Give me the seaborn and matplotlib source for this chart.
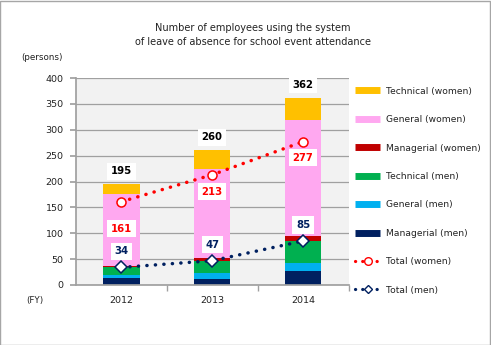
import matplotlib
matplotlib.use("Agg")
import matplotlib.pyplot as plt
from matplotlib.lines import Line2D
from matplotlib.patches import Rectangle
import seaborn as sns
import numpy as np
import pandas as pd

years = ["2012", "2013", "2014"]
managerial_men = [14, 12, 28]
general_men = [6, 11, 14]
technical_men = [14, 24, 43]
managerial_women = [3, 6, 9]
general_women = [138, 171, 225]
technical_women = [20, 36, 43]
total_women = [161, 213, 277]
total_men = [34, 47, 85]
grand_total = [195, 260, 362]

series_names = ["Managerial (men)", "General (men)", "Technical (men)",
                "Managerial (women)", "General (women)", "Technical (women)"]
series_values = [managerial_men, general_men, technical_men,
                 managerial_women, general_women, technical_women]
series_colors = ["#002060", "#00B0F0", "#00B050", "#C00000", "#FFA8F0", "#FFC000"]

sns.set_theme(style="white")
plt.rcParams['font.family'] = ['DejaVu Sans']

fig = plt.figure(figsize=(4.91, 3.45), dpi=100)
fig.patch.set_facecolor("white")
ax = fig.add_axes([76/491, 1-285/345, 272.5/491, 207/345])
ax.set_facecolor("#F2F2F2")

cum = np.cumsum(np.array(series_values), axis=0)
for i in range(len(series_names)-1, -1, -1):
    df = pd.DataFrame({"year": years, "v": cum[i]})
    sns.barplot(data=df, x="year", y="v", color=series_colors[i], width=0.4,
                saturation=1, ax=ax, zorder=2, linewidth=0)

dots = (0, (0.05, 2.4))
xs = np.arange(len(years))
ax.plot(xs, total_women, color="#FF0000", linestyle=dots, linewidth=2.5,
        dash_capstyle="round", marker="o", markersize=6.5, markerfacecolor="white",
        markeredgecolor="#FF0000", markeredgewidth=1.1, zorder=4)
ax.plot(xs, total_men, color="#002060", linestyle=dots, linewidth=2.5,
        dash_capstyle="round", marker="D", markersize=5.8, markerfacecolor="white",
        markeredgecolor="#002060", markeredgewidth=1.1, zorder=4)

box = dict(boxstyle="square,pad=0.35", fc="white", ec="none")
women_off = [-27, -17, -16]
for x, v, o in zip(xs, total_women, women_off):
    ax.annotate(str(v), (x, v), xytext=(0, o * 0.72), textcoords="offset points",
                ha="center", va="center", color="#FF0000", fontsize=7.3,
                fontweight="bold", bbox=box, zorder=5)
for x, v in zip(xs, total_men):
    ax.annotate(str(v), (x, v), xytext=(0, 16 * 0.72), textcoords="offset points",
                ha="center", va="center", color="#002060", fontsize=7.3,
                fontweight="bold", bbox=box, zorder=5)
for x, v in zip(xs, grand_total):
    ax.annotate(str(v), (x, v), xytext=(0, 13 * 0.72), textcoords="offset points",
                ha="center", va="center", color="black", fontsize=7.3,
                fontweight="bold", bbox=box, zorder=5)

ax.set_ylim(0, 400)
ax.set_xlim(-0.5, 2.5)
ax.set_yticks(range(0, 401, 50))
ax.yaxis.grid(True, color="#A0A0A0", linewidth=0.9, zorder=0)
ax.set_axisbelow(True)
ax.set_xlabel("")
ax.set_ylabel("")
for s in ["top", "right"]:
    ax.spines[s].set_visible(False)
ax.spines["left"].set_color("#A0A0A0")
ax.spines["bottom"].set_color("#A0A0A0")
ax.tick_params(axis="y", length=4, color="#A0A0A0", labelsize=6.8, labelcolor="#222222", pad=5, left=True)
ax.tick_params(axis="x", length=0, labelsize=6.8, labelcolor="#222222", pad=8)
ax.set_xticks(xs)
ax.set_xticklabels(years)
ax.set_xticks([0.5, 1.5, 2.5], minor=True)
ax.tick_params(axis="x", which="minor", length=4, color="#A0A0A0", bottom=True)

fig.text(253/491, 1-28/345, "Number of employees using the system", ha="center", va="center", fontsize=7, color="#222222")
fig.text(253/491, 1-42/345, "of leave of absence for school event attendance", ha="center", va="center", fontsize=7, color="#222222")
fig.text(42/491, 1-57/345, "(persons)", ha="center", va="center", fontsize=6.3, color="#222222")
fig.text(35/491, 1-301/345, "(FY)", ha="center", va="center", fontsize=6.3, color="#222222")

handles = []
labels = []
for i in range(len(series_names)-1, -1, -1):
    handles.append(Line2D([], [], color=series_colors[i], linewidth=5.0, solid_capstyle="butt"))
    labels.append(series_names[i])
handles.append(Line2D([], [], color="#FF0000", linestyle=(0, (0.05, 2.2)), linewidth=2.3,
                      dash_capstyle="round", marker="o", markersize=5.5, markerfacecolor="white",
                      markeredgecolor="#FF0000"))
labels.append("Total (women)")
handles.append(Line2D([], [], color="#002060", linestyle=(0, (0.05, 2.2)), linewidth=2.3,
                      dash_capstyle="round", marker="D", markersize=4.5, markerfacecolor="white",
                      markeredgecolor="#002060"))
labels.append("Total (men)")
leg = fig.legend(handles, labels, loc="upper left", bbox_to_anchor=(351/491, 1-83/345),
                 frameon=False, fontsize=6.6, labelspacing=2.12, handlelength=2.8,
                 handletextpad=0.6, borderaxespad=0)
for t in leg.get_texts():
    t.set_color("#222222")

fig.patches.append(Rectangle((0.001, 0.001), 0.997, 0.996, transform=fig.transFigure,
                             fill=False, edgecolor="#A6A6A6", linewidth=1))

fig.savefig("out.png", dpi=100)
